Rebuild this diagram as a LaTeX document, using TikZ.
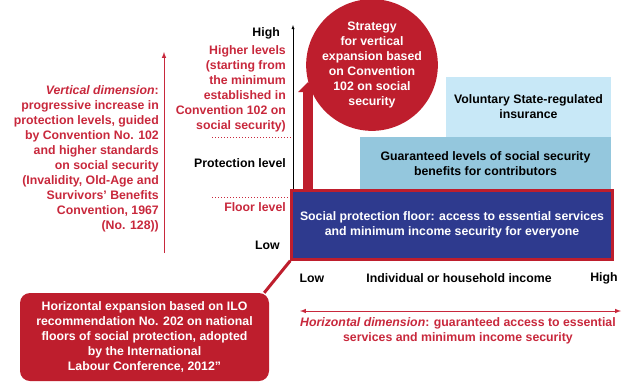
\documentclass[tikz,border=0pt]{standalone}
\usepackage{fontspec}
\setmainfont{Liberation Sans}
\usepackage{xcolor}
\usepackage{tikz}
\usetikzlibrary{arrows,arrows.meta,calc,positioning,shapes}
\definecolor{ilored}{HTML}{BE1E2D}
\definecolor{ilotext}{HTML}{C8283C}
\definecolor{floorblue}{HTML}{2E3A8E}
\definecolor{midblue}{HTML}{94C7DD}
\definecolor{lightblue}{HTML}{C8E8F7}
\tikzset{
  lbl/.style={font=\bfseries\fontsize{12.3}{15}\selectfont, inner sep=0pt, align=center},
  redlbl/.style={lbl, text=ilotext},
  tier/.style={lbl, minimum width=#1, anchor=center},
  guide/.style={ilotext, dotted, line width=1pt}
}

\begin{document}
\begin{tikzpicture}[x=1pt,y=-1pt]
  \useasboundingbox (0,0) rectangle (624,381);
  % income tiers
  \node[tier=165, fill=lightblue, minimum height=60] (voluntary) at (528.5,107) {Voluntary State-regulated\\insurance};
  \node[tier=251, fill=midblue, minimum height=53] (guaranteed) at (485.5,163.5) {Guaranteed levels of social security\\benefits for contributors};
  \node[tier=321, fill=floorblue, draw=ilored, line width=2.5pt, minimum height=69, text=white] (floor) at (452,225) {Social protection floor: access to essential services\\and minimum income security for everyone};
  % axes
  \coordinate (axtop) at (293,25);
  \draw[-latex] (floor.north west -| axtop) -- (axtop);
  \node[lbl, anchor=east] (high) at (280,33) {High};
  \node[lbl, anchor=east] (low) at (280,245) {Low};
  \node[lbl, anchor=east] (protlevel) at (286,163) {Protection level};
  \node[redlbl, anchor=east] (floorlevel) at (286,207) {Floor level};
  \node[redlbl, anchor=east, align=right] (higherlvls) at (286,89) {Higher levels\\(starting from\\the minimum\\established in\\Convention 102 on\\social security)};
  \draw[guide] (212,137) -- (292,137);
  \draw[guide] (212,197) -- (290,197);
  \node[lbl] (xlow) at (312,278) {Low};
  \node[lbl] (income) at (459,278) {Individual or household income};
  \node[lbl] (xhigh) at (604,278) {High};
  % vertical dimension
  \coordinate (vbot) at (164,253);
  \coordinate (vtop) at (164,52);
  \draw[ilotext, line width=1pt, -latex] (vbot) -- (vtop);
  \node[redlbl, anchor=east, align=right] (vertdim) at (159,159) {\textit{Vertical dimension}:\\progressive increase in\\protection levels, guided\\by Convention No. 102\\and higher standards\\on social security\\(Invalidity, Old-Age and\\Survivors’ Benefits\\Convention, 1967\\(No. 128))};
  % vertical expansion
  \coordinate (uptip) at (308,82);
  \draw[ilored, line width=10pt, -{Triangle[length=10pt,width=19pt]}] (floor.north -| uptip) -- (uptip);
  \node[lbl, circle, fill=ilored, text=white, minimum size=114] (strategy) at (372,65) {Strategy\\for vertical\\expansion based\\on Convention\\102 on social\\security};
  % horizontal dimension
  \coordinate (hleft) at (300,311);
  \coordinate (hright) at (621,311);
  \draw[ilotext, line width=1pt, latex-latex] (hleft) -- (hright);
  \node[redlbl] (horizdim) at (458,331) {\textit{Horizontal dimension}: guaranteed access to essential\\services and minimum income security};
  % horizontal expansion
  \node[lbl, fill=ilored, text=white, rounded corners=10pt, minimum width=249, minimum height=88] (horizexp) at (144.5,337) {Horizontal expansion based on ILO\\recommendation No. 202 on national\\floors of social protection, adopted\\by the International\\Labour Conference, 2012”};
  \draw[ilored, line width=3pt] (floor.south west) -- ([xshift=-5pt]horizexp.north east);
\end{tikzpicture}
\end{document}
